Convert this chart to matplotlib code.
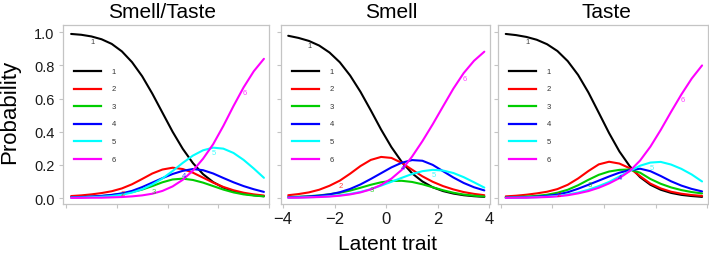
import matplotlib
matplotlib.use("Agg")
import matplotlib.pyplot as plt

plt.rcParams['font.family'] = ['Liberation Sans', 'DejaVu Sans']

# ---------------- data ----------------
PANELS = ["Smell/Taste", "Smell", "Taste"]
CATEGORIES = ["1", "2", "3", "4", "5", "6"]
LATENT = [-3.8, -3.4, -3.0, -2.6, -2.2, -1.8, -1.4, -1.0, -0.6, -0.2,
          0.2, 0.6, 1.0, 1.4, 1.8, 2.2, 2.6, 3.0, 3.4, 3.8]
X_TICKS = [-4, -2, 0, 2, 4]
Y_TICKS = [0.0, 0.2, 0.4, 0.6, 0.8, 1.0]

smell_taste_1 = [0.990, 0.985, 0.975, 0.958, 0.930, 0.885, 0.820, 0.735, 0.630, 0.515,
                 0.400, 0.297, 0.211, 0.144, 0.096, 0.063, 0.041, 0.026, 0.017, 0.011]
smell_taste_2 = [0.012, 0.016, 0.022, 0.030, 0.041, 0.058, 0.083, 0.115, 0.148, 0.172,
                 0.183, 0.175, 0.153, 0.123, 0.093, 0.067, 0.047, 0.032, 0.022, 0.015]
smell_taste_3 = [0.004, 0.006, 0.008, 0.012, 0.018, 0.026, 0.036, 0.051, 0.072, 0.095,
                 0.112, 0.117, 0.109, 0.093, 0.072, 0.051, 0.034, 0.022, 0.015, 0.010]
smell_taste_4 = [0.004, 0.006, 0.009, 0.013, 0.019, 0.028, 0.043, 0.066, 0.093, 0.120,
                 0.145, 0.164, 0.175, 0.168, 0.148, 0.121, 0.095, 0.072, 0.053, 0.037]
smell_taste_5 = [0.002, 0.003, 0.005, 0.008, 0.012, 0.020, 0.033, 0.053, 0.082, 0.118,
                 0.163, 0.212, 0.256, 0.288, 0.304, 0.298, 0.272, 0.230, 0.178, 0.122]
smell_taste_6 = [0.001, 0.001, 0.002, 0.002, 0.004, 0.006, 0.010, 0.016, 0.026, 0.043,
                 0.070, 0.110, 0.165, 0.237, 0.325, 0.435, 0.555, 0.668, 0.765, 0.840]

smell_1 = [0.979, 0.966, 0.948, 0.920, 0.878, 0.819, 0.739, 0.641, 0.529, 0.413,
           0.307, 0.218, 0.149, 0.100, 0.065, 0.042, 0.027, 0.017, 0.011, 0.007]
smell_2 = [0.017, 0.024, 0.034, 0.050, 0.074, 0.105, 0.147, 0.193, 0.230, 0.248,
           0.242, 0.212, 0.171, 0.131, 0.098, 0.072, 0.052, 0.036, 0.025, 0.017]
smell_3 = [0.006, 0.008, 0.011, 0.016, 0.023, 0.032, 0.045, 0.062, 0.080, 0.095,
           0.103, 0.104, 0.097, 0.083, 0.065, 0.047, 0.032, 0.021, 0.014, 0.009]
smell_4 = [0.004, 0.006, 0.009, 0.014, 0.022, 0.035, 0.055, 0.082, 0.115, 0.150,
           0.185, 0.213, 0.229, 0.225, 0.200, 0.162, 0.124, 0.091, 0.065, 0.046]
smell_5 = [0.002, 0.003, 0.005, 0.007, 0.011, 0.017, 0.025, 0.037, 0.054, 0.075,
           0.098, 0.122, 0.145, 0.162, 0.170, 0.166, 0.151, 0.126, 0.095, 0.063]
smell_6 = [0.002, 0.002, 0.004, 0.006, 0.009, 0.014, 0.022, 0.034, 0.052, 0.079,
           0.117, 0.170, 0.250, 0.343, 0.445, 0.553, 0.660, 0.754, 0.828, 0.883]

taste_1 = [0.990, 0.983, 0.972, 0.955, 0.928, 0.887, 0.826, 0.743, 0.637, 0.515,
           0.392, 0.281, 0.192, 0.126, 0.080, 0.050, 0.031, 0.019, 0.012, 0.007]
taste_2 = [0.010, 0.014, 0.020, 0.028, 0.038, 0.054, 0.080, 0.118, 0.163, 0.203,
           0.219, 0.208, 0.180, 0.132, 0.087, 0.058, 0.038, 0.026, 0.018, 0.013]
taste_3 = [0.004, 0.006, 0.009, 0.013, 0.020, 0.032, 0.050, 0.077, 0.110, 0.140,
           0.160, 0.170, 0.172, 0.153, 0.115, 0.086, 0.064, 0.048, 0.036, 0.028]
taste_4 = [0.002, 0.003, 0.005, 0.008, 0.013, 0.021, 0.035, 0.056, 0.080, 0.105,
           0.130, 0.153, 0.168, 0.177, 0.162, 0.133, 0.101, 0.075, 0.055, 0.040]
taste_5 = [0.001, 0.002, 0.003, 0.005, 0.008, 0.013, 0.021, 0.033, 0.050, 0.072,
           0.097, 0.130, 0.163, 0.195, 0.214, 0.218, 0.202, 0.176, 0.142, 0.100]
taste_6 = [0.001, 0.002, 0.002, 0.004, 0.006, 0.010, 0.017, 0.028, 0.042, 0.062,
           0.088, 0.120, 0.163, 0.226, 0.310, 0.411, 0.520, 0.625, 0.721, 0.800]

SERIES = [
    [smell_taste_1, smell_taste_2, smell_taste_3, smell_taste_4, smell_taste_5, smell_taste_6],
    [smell_1, smell_2, smell_3, smell_4, smell_5, smell_6],
    [taste_1, taste_2, taste_3, taste_4, taste_5, taste_6],
]

# ---------------- styling / layout ----------------
COLORS = ["#000000", "#FF0000", "#00CD00", "#0000FF", "#00FFFF", "#FF00FF"]
LABEL_IDX = [2, 5, 8, 11, 14, 17]  # where the curve numbers sit along each curve
W, H = 709, 255
BOX_TOP, BOX_BOTTOM = 26, 205
BOXES = [(63, 269), (281, 490), (498, 708)]
XLIMS = [(-4.12, 3.86), (-4.08, 4.02), (-4.10, 4.03)]
TITLE_X = [162, 391, 606]
GRID_C = "#C4C4C4"

fig = plt.figure(figsize=(W / 100, H / 100), dpi=100)

for p, (name, series) in enumerate(zip(PANELS, SERIES)):
    l, r = BOXES[p]
    ax = fig.add_axes([l / W, 1 - BOX_BOTTOM / H, (r - l) / W, (BOX_BOTTOM - BOX_TOP) / H])
    for k, ys in enumerate(series):
        ax.plot(LATENT, ys, color=COLORS[k], lw=1.5, solid_capstyle='round',
                solid_joinstyle='round')
        i = LABEL_IDX[k]
        ax.annotate(CATEGORIES[k], (LATENT[i], ys[i]), xytext=(1, -5),
                    textcoords='offset pixels', ha='center', va='center',
                    fontsize=5.5, color=COLORS[k], alpha=0.75)
    ax.set_xlim(*XLIMS[p])
    ax.set_ylim(-0.036, 1.044)
    ax.set_xticks(X_TICKS)
    ax.set_yticks(Y_TICKS)
    for s in ax.spines.values():
        s.set_color(GRID_C)
        s.set_linewidth(0.9)
    ax.tick_params(axis='both', direction='out', length=3, width=0.8, color=GRID_C,
                   labelcolor='#1a1a1a')
    ax.tick_params(axis='y', labelsize=10.5, pad=3)
    ax.tick_params(axis='x', labelsize=12, pad=2)
    if p == 0:
        ax.set_yticklabels([f"{v:.1f}" for v in Y_TICKS])
    else:
        ax.set_yticklabels([])
    if p == 1:
        ax.set_xticklabels([f"{v}".replace("-", "\u2212") for v in X_TICKS])
    else:
        ax.set_xticklabels([])

    # legend drawn inside the panel
    hpx = BOX_BOTTOM - BOX_TOP
    wpx = r - l
    for k, lab in enumerate(CATEGORIES):
        ypx = 72 + 17.6 * k
        yf = (BOX_BOTTOM - ypx) / hpx
        ax.plot([11 / wpx, 38 / wpx], [yf, yf], transform=ax.transAxes,
                color=COLORS[k], lw=1.6, clip_on=False)
        ax.text(51 / wpx, yf, lab, transform=ax.transAxes, fontsize=5.5,
                color='#333333', ha='center', va='center')

    fig.text(TITLE_X[p] / W, 1 - 12 / H, name, ha='center', va='center', fontsize=15)

fig.text(10 / W, 1 - 112 / H, "Probability", rotation=90, ha='center', va='center',
         fontsize=16)
fig.text(388 / W, 1 - 245 / H, "Latent trait", ha='center', va='center', fontsize=15)

fig.savefig("out.png", dpi=100, facecolor='white')
